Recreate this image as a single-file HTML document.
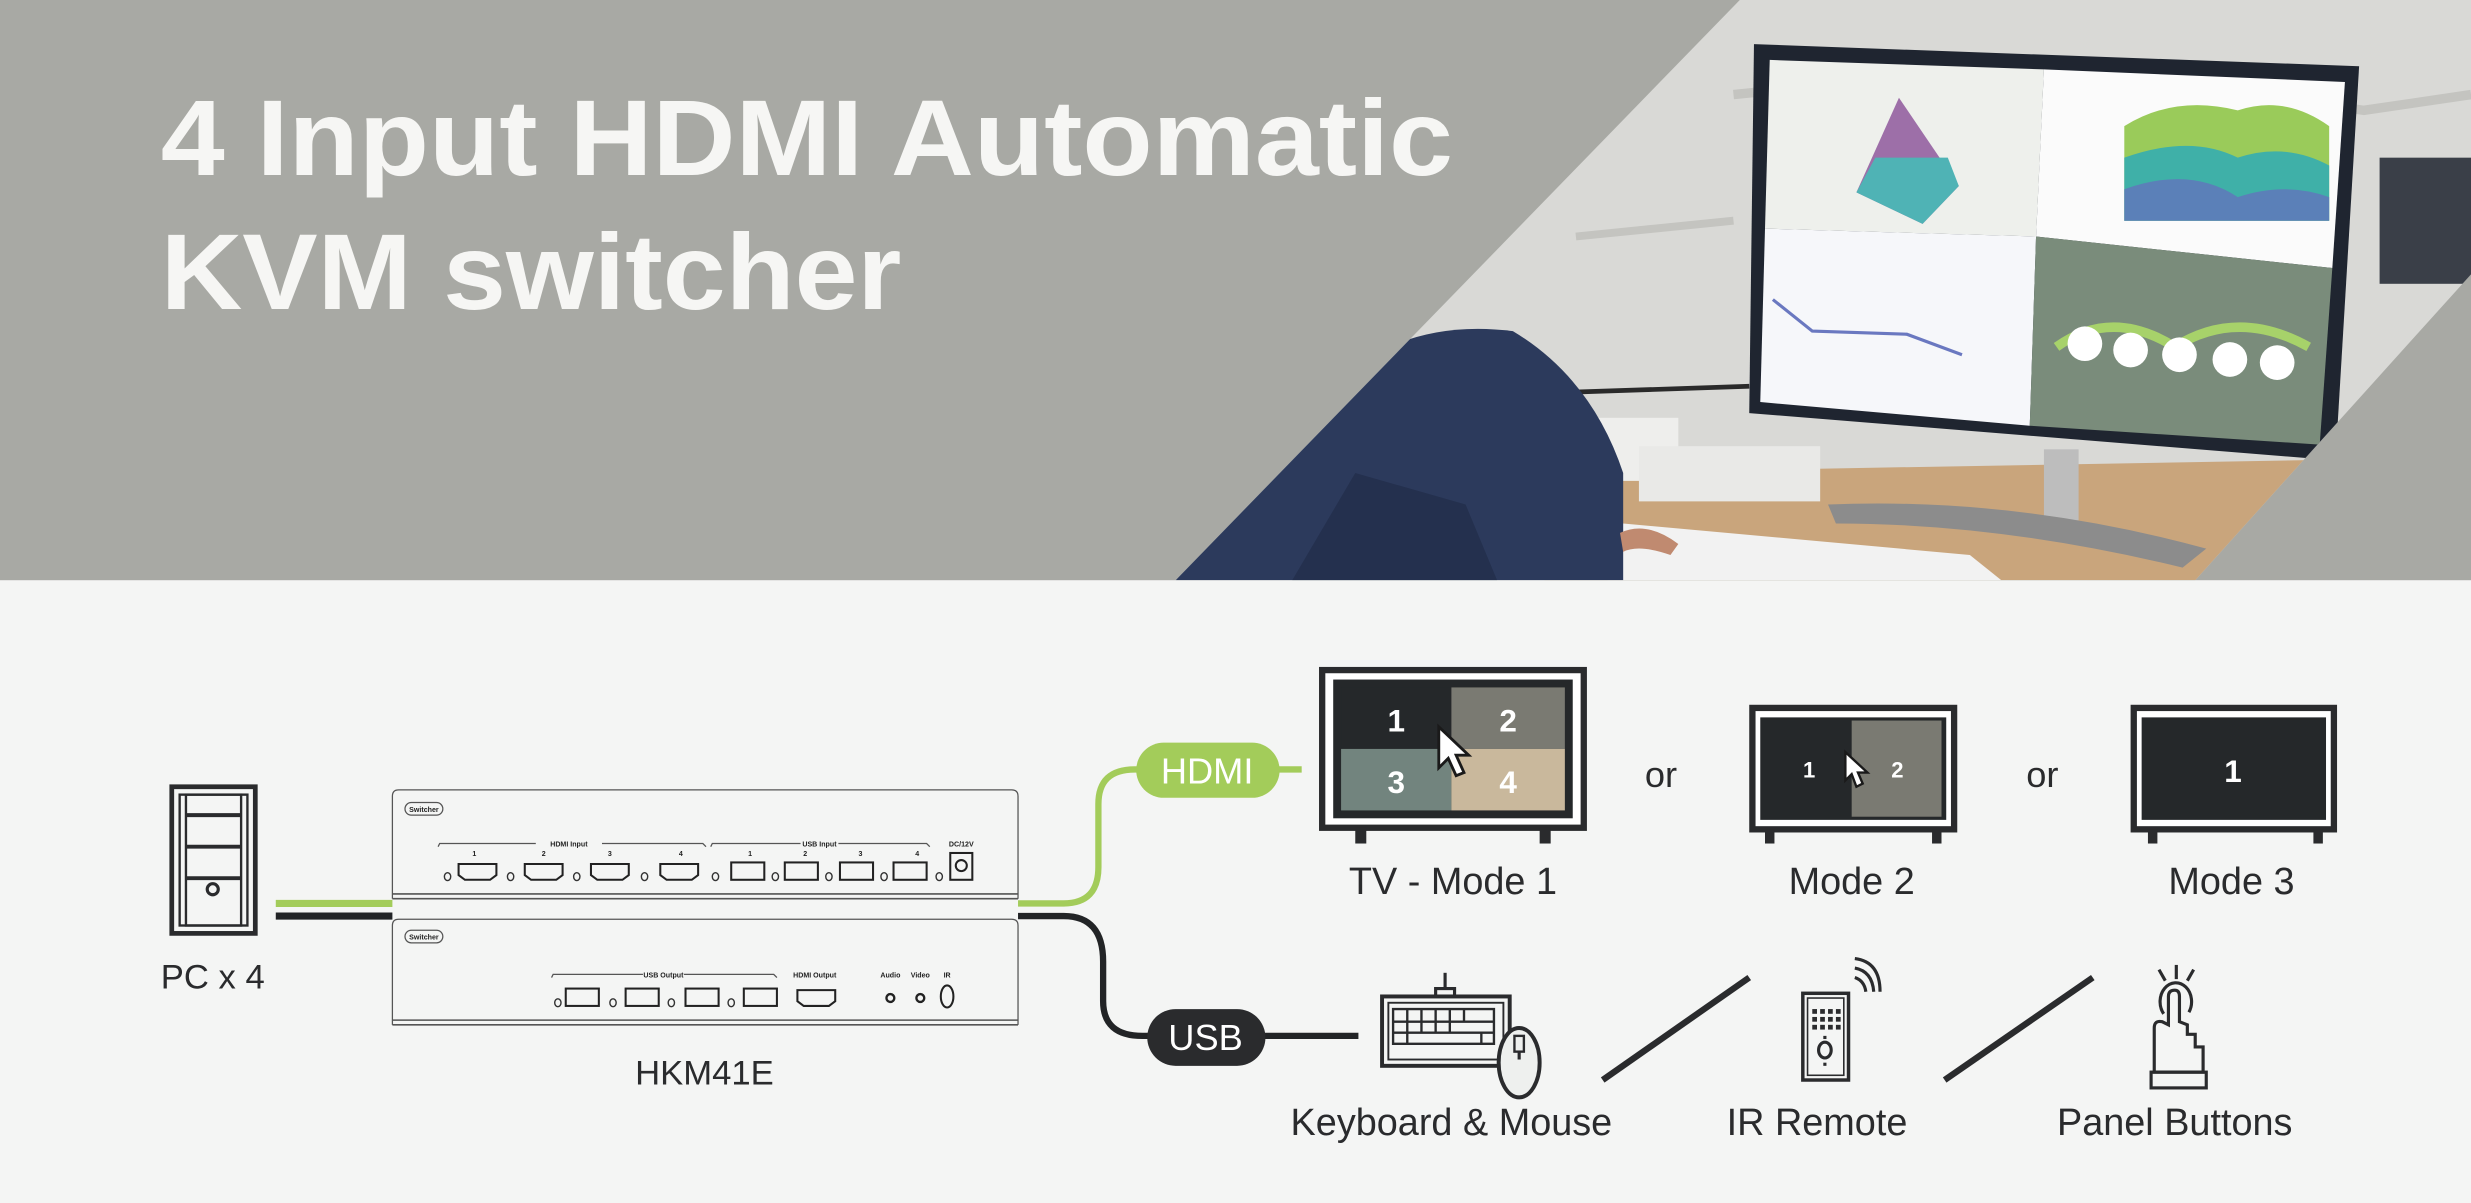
<!DOCTYPE html>
<html><head><meta charset="utf-8"><style>
html,body{margin:0;padding:0;background:#f4f5f4;}
svg{display:block;}
text{font-family:"Liberation Sans",sans-serif;}
</style></head><body>
<svg width="2471" height="1203" viewBox="0 0 1568 763" preserveAspectRatio="none" xmlns="http://www.w3.org/2000/svg">
<defs>
<clipPath id="ph"><polygon points="1104,0 1568,0 1568,174 1393,368 746,368"/></clipPath>
</defs>
<rect x="0" y="0" width="1568" height="763" fill="#f4f5f4"/>
<rect x="0" y="0" width="1568" height="368" fill="#a8a9a4"/>
<!-- photo -->
<g clip-path="url(#ph)">
<rect x="700" y="0" width="900" height="368" fill="#d9d9d6"/>
<path d="M1100 60 L1300 40 L1500 70 L1568 60" stroke="#c4c4c0" stroke-width="6" fill="none"/>
<path d="M1000 150 L1100 140" stroke="#c4c4c0" stroke-width="5" fill="none"/>
<path d="M960 250 L1110 245" stroke="#2a2a2a" stroke-width="3" fill="none"/>
<rect x="1510" y="100" width="60" height="80" fill="#3a3f48"/>
<!-- desk -->
<polygon points="1000,300 1568,290 1568,368 980,368" fill="#c9a57c"/>
<rect x="1005" y="265" width="60" height="40" fill="#eeeeec"/>
<rect x="1040" y="283" width="115" height="35" fill="#e9e9e7"/>
<!-- keyboard -->
<polygon points="1030,332 1250,352 1270,368 1020,368" fill="#f2f2f2"/>
<!-- stand -->
<rect x="1297" y="285" width="22" height="45" fill="#bdbdbd"/>
<path d="M1160 320 Q1280 315 1400 348 L1385 360 Q1270 332 1165 332 Z" fill="#8c8c8c"/>
<!-- monitor -->
<polygon points="1113,28 1497,42 1482,292 1110,262" fill="#1f2530"/>
<polygon points="1123,38 1297,44 1292,150 1120,145" fill="#eef0ec"/>
<polygon points="1297,44 1488,52 1480,170 1292,150" fill="#fbfbfb"/>
<polygon points="1120,145 1292,150 1288,270 1117,255" fill="#f6f7fa"/>
<polygon points="1292,150 1480,170 1472,282 1288,270" fill="#7a8c7b"/>
<polygon points="1205,62 1178,122 1220,142 1243,118" fill="#9d6fa8"/>
<polygon points="1178,122 1220,142 1243,118 1236,100 1190,100" fill="#4fb3b5"/>
<path d="M1348 80 Q1380 60 1420 70 Q1450 60 1478 80 L1478 140 L1348 140 Z" fill="#9acb5a"/>
<path d="M1348 100 Q1390 85 1420 100 Q1450 90 1478 105 L1478 140 L1348 140 Z" fill="#3fb0a8"/>
<path d="M1348 120 Q1390 105 1420 125 Q1450 115 1478 125 L1478 140 L1348 140 Z" fill="#5b80b8"/>
<path d="M1125 190 L1150 210 L1210 212 L1245 225" stroke="#6a78c0" stroke-width="2" fill="none"/>
<path d="M1305 220 Q1340 195 1380 220 Q1420 195 1465 220" stroke="#a7d26a" stroke-width="6" fill="none"/>
<circle cx="1323" cy="218" r="11" fill="#fff"/><circle cx="1352" cy="222" r="11" fill="#fff"/><circle cx="1383" cy="225" r="11" fill="#fff"/><circle cx="1415" cy="228" r="11" fill="#fff"/><circle cx="1445" cy="230" r="11" fill="#fff"/>
<!-- person -->
<path d="M746 368 L830 260 Q880 200 960 210 Q1010 240 1030 300 L1030 368 Z" fill="#2c3a5c"/>
<path d="M820 368 L860 300 L930 320 L950 368 Z" fill="#24304e"/>
<path d="M1028 338 Q1045 330 1065 345 L1060 352 Q1040 345 1030 350 Z" fill="#c08a70"/>
<rect x="1370" y="300" width="200" height="20" fill="#d9d9d6" opacity="0"/>
</g>
<text x="102" y="111" font-size="68" font-weight="bold" fill="#f6f6f4" textLength="820" lengthAdjust="spacingAndGlyphs">4 Input HDMI Automatic</text>
<text x="102" y="196" font-size="68" font-weight="bold" fill="#f6f6f4" textLength="470" lengthAdjust="spacingAndGlyphs">KVM switcher</text>

<!-- PC -->
<g fill="none" stroke="#2a2b2d">
<rect x="109" y="499" width="53" height="93" stroke-width="3"/>
<rect x="114" y="504" width="43" height="83" stroke-width="1.5"/>
<rect x="118" y="504" width="35" height="83" stroke-width="1.5"/>
<line x1="118" y1="517" x2="153" y2="517" stroke-width="2.5"/>
<line x1="118" y1="537" x2="153" y2="537" stroke-width="2.5"/>
<line x1="118" y1="557" x2="153" y2="557" stroke-width="2.5"/>
<circle cx="135" cy="564" r="3.5" stroke-width="2"/>
</g>
<text x="135" y="627" font-size="22" fill="#2a2b2d" text-anchor="middle">PC x 4</text>

<!-- cables left -->
<line x1="175" y1="573" x2="249" y2="573" stroke="#a3cc5a" stroke-width="4.5"/>
<line x1="175" y1="581" x2="249" y2="581" stroke="#222426" stroke-width="4.5"/>

<!-- switch top -->
<g fill="none" stroke="#555" stroke-width="0.8">
<path d="M249 570 L249 505 Q249 501 253 501 L642 501 Q646 501 646 505 L646 570"/>
<line x1="249" y1="567" x2="646" y2="567" stroke-width="1"/>
<line x1="249" y1="570" x2="646" y2="570" stroke-width="1"/>
<rect x="257" y="509" width="24" height="8" rx="4"/>
<path d="M249 650 L249 587 Q249 583 253 583 L642 583 Q646 583 646 587 L646 650"/>
<line x1="249" y1="647" x2="646" y2="647" stroke-width="1"/>
<line x1="249" y1="650" x2="646" y2="650" stroke-width="1"/>
<rect x="257" y="590" width="24" height="8" rx="4"/>
<path d="M278 537 L279 535 L340 535 M382 535 L446 535 L448 537"/>
<path d="M451 537 L452 535 L508 535 M532 535 L588 535 L590 537"/>
<path d="M350 620 L351 618 L408 618 M434 618 L491 618 L493 620"/>
</g>
<g font-size="4.5" fill="#222" text-anchor="middle" font-weight="bold">
<text x="269" y="515">Switcher</text><text x="269" y="596">Switcher</text>
<text x="361" y="537">HDMI Input</text><text x="520" y="537">USB Input</text><text x="610" y="537">DC/12V</text>
<text x="301" y="543">1</text><text x="345" y="543">2</text><text x="387" y="543">3</text><text x="432" y="543">4</text>
<text x="476" y="543">1</text><text x="511" y="543">2</text><text x="546" y="543">3</text><text x="582" y="543">4</text>
<text x="421" y="620">USB Output</text><text x="517" y="620">HDMI Output</text>
<text x="565" y="620">Audio</text><text x="584" y="620">Video</text><text x="601" y="620">IR</text>
</g>
<g fill="#f4f5f4" stroke="#222" stroke-width="1.3">
<path d="M291 548 L315 548 L315 555 L311 558 L295 558 L291 555 Z"/>
<path d="M333 548 L357 548 L357 555 L353 558 L337 558 L333 555 Z"/>
<path d="M375 548 L399 548 L399 555 L395 558 L379 558 L375 555 Z"/>
<path d="M419 548 L443 548 L443 555 L439 558 L423 558 L419 555 Z"/>
<rect x="464" y="547" width="21" height="11"/><rect x="498" y="547" width="21" height="11"/>
<rect x="533" y="547" width="21" height="11"/><rect x="567" y="547" width="21" height="11"/>
<rect x="603" y="541" width="14" height="17"/><circle cx="610" cy="549" r="3.5"/>
<rect x="359" y="627" width="21" height="11"/><rect x="397" y="627" width="21" height="11"/>
<rect x="435" y="627" width="21" height="11"/><rect x="472" y="627" width="21" height="11"/>
<path d="M506 628 L530 628 L530 635 L526 638 L510 638 L506 635 Z"/>
<circle cx="565" cy="633" r="2.5" stroke-width="1.5"/><circle cx="584" cy="633" r="2.5" stroke-width="1.5"/>
<ellipse cx="601" cy="632" rx="4" ry="7"/>
</g>
<g fill="none" stroke="#333" stroke-width="0.9">
<ellipse cx="284" cy="556" rx="2" ry="2.5"/><ellipse cx="324" cy="556" rx="2" ry="2.5"/><ellipse cx="366" cy="556" rx="2" ry="2.5"/><ellipse cx="409" cy="556" rx="2" ry="2.5"/>
<ellipse cx="454" cy="556" rx="2" ry="2.5"/><ellipse cx="492" cy="556" rx="2" ry="2.5"/><ellipse cx="526" cy="556" rx="2" ry="2.5"/><ellipse cx="561" cy="556" rx="2" ry="2.5"/><ellipse cx="596" cy="556" rx="2" ry="2.5"/>
<ellipse cx="354" cy="636" rx="2" ry="2.5"/><ellipse cx="389" cy="636" rx="2" ry="2.5"/><ellipse cx="426" cy="636" rx="2" ry="2.5"/><ellipse cx="464" cy="636" rx="2" ry="2.5"/>
</g>
<text x="447" y="688" font-size="22" fill="#2a2b2d" text-anchor="middle">HKM41E</text>

<!-- right cables -->
<path d="M646 573 L675 573 Q697 573 697 550 L697 510 Q697 488 720 488 L826 488" fill="none" stroke="#a3cc5a" stroke-width="4"/>
<path d="M646 581 L675 581 Q700 581 700 610 L700 635 Q700 657 725 657 L862 657" fill="none" stroke="#222426" stroke-width="4"/>
<rect x="721" y="471" width="91" height="35" rx="17.5" fill="#a3cc5a"/>
<text x="766" y="497" font-size="23" fill="#fff" text-anchor="middle">HDMI</text>
<rect x="728" y="640" width="75" height="36" rx="18" fill="#2a2b2d"/>
<text x="765" y="666" font-size="23" fill="#fff" text-anchor="middle">USB</text>

<!-- TV1 -->
<rect x="839" y="425" width="166" height="100" fill="#fff" stroke="#2a2b2d" stroke-width="4"/>
<rect x="846" y="431" width="152" height="88" fill="#25282a"/>
<rect x="851" y="436" width="70" height="39" fill="#25282a"/>
<rect x="921" y="436" width="72" height="39" fill="#7a7a72"/>
<rect x="851" y="475" width="70" height="39" fill="#72847e"/>
<rect x="921" y="475" width="72" height="39" fill="#c9b89c"/>
<rect x="860" y="525" width="7" height="10" fill="#2a2b2d"/><rect x="977" y="525" width="7" height="10" fill="#2a2b2d"/>
<g font-size="20" font-weight="bold" fill="#fff" text-anchor="middle">
<text x="886" y="464">1</text><text x="957" y="464">2</text><text x="886" y="503">3</text><text x="957" y="503">4</text>
</g>
<path d="M913 461 L913 487 L919 481 L924 492 L929 490 L924 479 L932 479 Z" fill="#fff" stroke="#1a1a1a" stroke-width="1.8"/>
<text x="1054" y="499" font-size="23" fill="#2a2b2d" text-anchor="middle">or</text>
<!-- TV2 -->
<rect x="1112" y="449" width="128" height="77" fill="#fff" stroke="#2a2b2d" stroke-width="4"/>
<rect x="1117" y="455" width="118" height="65" fill="#25282a"/>
<rect x="1175" y="457" width="57" height="61" fill="#7a7a72"/>
<rect x="1120" y="526" width="6" height="9" fill="#2a2b2d"/><rect x="1226" y="526" width="6" height="9" fill="#2a2b2d"/>
<g font-size="14" font-weight="bold" fill="#fff" text-anchor="middle"><text x="1148" y="493">1</text><text x="1204" y="493">2</text></g>
<path d="M1171 477 L1171 495 L1175 491 L1178 499 L1182 497 L1179 490 L1185 490 Z" fill="#fff" stroke="#1a1a1a" stroke-width="1.5"/>
<text x="1296" y="499" font-size="23" fill="#2a2b2d" text-anchor="middle">or</text>
<!-- TV3 -->
<rect x="1354" y="449" width="127" height="77" fill="#fff" stroke="#2a2b2d" stroke-width="4"/>
<rect x="1359" y="455" width="117" height="65" fill="#25282a"/>
<rect x="1363" y="526" width="6" height="9" fill="#2a2b2d"/><rect x="1468" y="526" width="6" height="9" fill="#2a2b2d"/>
<text x="1417" y="496" font-size="20" font-weight="bold" fill="#fff" text-anchor="middle">1</text>
<g font-size="24" fill="#2a2b2d" text-anchor="middle">
<text x="922" y="567">TV - Mode 1</text><text x="1175" y="567">Mode 2</text><text x="1416" y="567">Mode 3</text>
</g>

<!-- keyboard & mouse -->
<g fill="none" stroke="#2a2b2d" stroke-width="2">
<line x1="917" y1="617" x2="917" y2="627"/>
<rect x="911" y="627" width="12" height="5"/>
<rect x="877" y="632" width="81" height="44" stroke-width="2.5"/>
<rect x="881" y="636" width="73" height="36" stroke-width="1.2"/>
<path d="M884 640 h64 v22 h-64 Z M884 648 h64 M884 655 h64 M893 640 v15 M902 640 v15 M911 640 v15 M920 640 v15 M929 640 v8 M893 655 v7 M940 655 v7" stroke-width="1.5"/>
<ellipse cx="964" cy="674" rx="13" ry="22" fill="#eef0ee" stroke-width="2.5"/>
<rect x="961" y="657" width="6" height="10" stroke-width="1.5"/>
<line x1="964" y1="667" x2="964" y2="672"/>
</g>
<line x1="1017" y1="685" x2="1110" y2="620" stroke="#2a2b2d" stroke-width="4"/>
<line x1="1234" y1="685" x2="1328" y2="620" stroke="#2a2b2d" stroke-width="4"/>
<!-- remote -->
<g fill="none" stroke="#2a2b2d" stroke-width="2">
<rect x="1144" y="630" width="29" height="55" stroke-width="2.2"/>
<rect x="1147" y="633" width="23" height="49" stroke-width="1"/>
<path d="M1177 620 Q1183 622 1184 629 M1177 614 Q1188 616 1189 629 M1177 608 Q1193 610 1193 629"/>
<ellipse cx="1158" cy="666" rx="4" ry="5"/>
</g>
<g fill="#2a2b2d">
<rect x="1150" y="640" width="3" height="3"/><rect x="1155" y="640" width="3" height="3"/><rect x="1160" y="640" width="3" height="3"/><rect x="1165" y="640" width="3" height="3"/>
<rect x="1150" y="645" width="3" height="3"/><rect x="1155" y="645" width="3" height="3"/><rect x="1160" y="645" width="3" height="3"/><rect x="1165" y="645" width="3" height="3"/>
<rect x="1150" y="650" width="3" height="3"/><rect x="1155" y="650" width="3" height="3"/><rect x="1160" y="650" width="3" height="3"/><rect x="1165" y="650" width="3" height="3"/>
<rect x="1157" y="657" width="2" height="2"/><rect x="1157" y="674" width="2" height="2"/>
</g>
<!-- hand -->
<g fill="none" stroke="#2a2b2d" stroke-width="2">
<line x1="1381" y1="612" x2="1381" y2="621"/><line x1="1370" y1="615" x2="1374" y2="622"/><line x1="1392" y1="615" x2="1388" y2="622"/>
<path d="M1373 643 A10 12 0 1 1 1389 642"/>
<path d="M1367 671 L1367 652 Q1367 647 1372 648 L1376 650 L1376 632 Q1376 628 1380 628 Q1383 628 1383 632 L1383 648 L1388 650 L1388 656 L1393 656 L1393 664 L1398 664 L1398 680 L1367 680 Z"/>
<rect x="1365" y="680" width="35" height="10"/>
</g>
<g font-size="24" fill="#2a2b2d" text-anchor="middle">
<text x="921" y="720">Keyboard &amp; Mouse</text><text x="1153" y="720">IR Remote</text><text x="1380" y="720">Panel Buttons</text>
</g>
</svg>
</body></html>
